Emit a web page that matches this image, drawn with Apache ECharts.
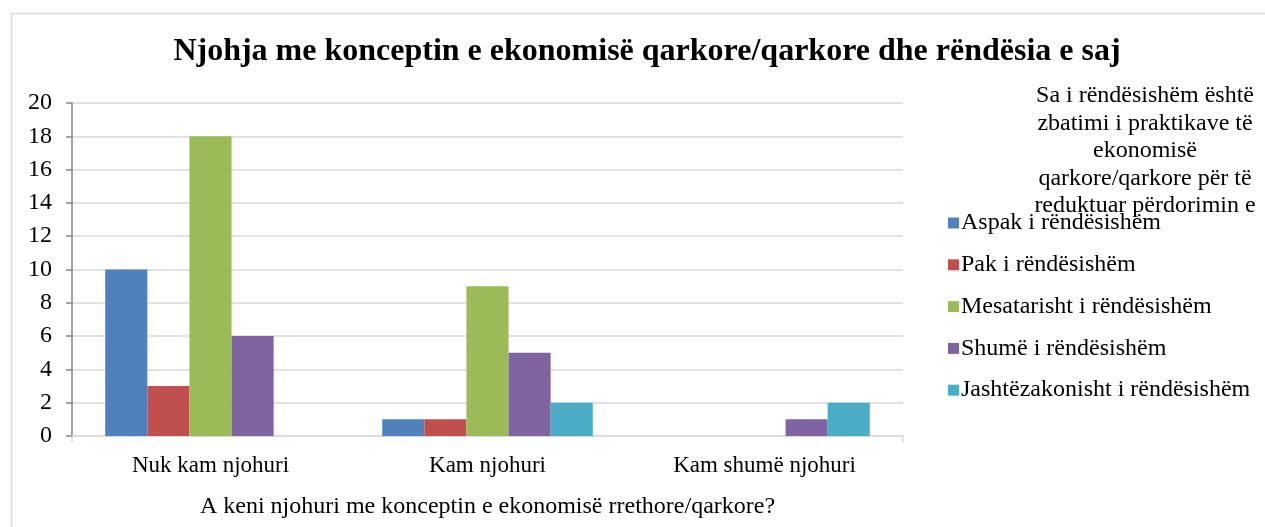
<!DOCTYPE html>
<html>
<head>
<meta charset="utf-8">
<script src="https://cdn.jsdelivr.net/npm/echarts@6/dist/echarts.min.js"></script>
<style>
    html, body { margin: 0; padding: 0; background: #fff; }
    #chart { width: 1265px; height: 527px; }
</style>
</head>
<body>
<div id="chart"></div>
<script>
var categories = ['Nuk kam njohuri', 'Kam njohuri', 'Kam shumë njohuri'];
var seriesNames = ['Aspak i rëndësishëm', 'Pak i rëndësishëm', 'Mesatarisht i rëndësishëm', 'Shumë i rëndësishëm', 'Jashtëzakonisht i rëndësishëm'];
var aspak = [10, 1, 0];
var pak = [3, 1, 0];
var mesatarisht = [18, 9, 0];
var shume = [6, 5, 1];
var jashtezakonisht = [0, 2, 2];
var yTicks = [0, 2, 4, 6, 8, 10, 12, 14, 16, 18, 20];

var serif = '"Liberation Serif", "DejaVu Serif", serif';
var chart = echarts.init(document.getElementById('chart'));

function bar(name, data) {
    return {
        name: name,
        type: 'bar',
        barGap: '0%',
        barCategoryGap: '24%',
        data: data
    };
}

chart.setOption({
    color: ['#4f81bd', '#c0504d', '#9bbb59', '#8064a2', '#4bacc6'],
    animation: false,
    graphic: [{
        type: 'rect',
        shape: { x: 11.5, y: 13.5, width: 1300, height: 600 },
        style: { fill: 'none', stroke: '#d9d9d9', lineWidth: 1.5 },
        silent: true
    }],
    title: [{
        text: 'Njohja me konceptin e ekonomisë qarkore/qarkore dhe rëndësia e saj',
        left: 642,
        top: 31,
        textAlign: 'center',
        textStyle: { fontFamily: serif, fontSize: 32, fontWeight: 'bold', color: '#000' }
    }, {
        // legend title, it runs into the first legend entry like the original
        text: 'Sa i rëndësishëm është\nzbatimi i praktikave të\nekonomisë\nqarkore/qarkore për të\nreduktuar përdorimin e',
        left: 1140,
        top: 77,
        textAlign: 'center',
        textStyle: { fontFamily: serif, fontSize: 24, fontWeight: 'normal', color: '#000', lineHeight: 27.6 }
    }],
    legend: {
        orient: 'vertical',
        left: 943,
        top: 206,
        itemWidth: 11,
        itemHeight: 11,
        itemGap: 17.8,
        icon: 'rect',
        data: seriesNames,
        textStyle: { fontFamily: serif, fontSize: 24, color: '#000', padding: [0, 0, 0, -3], lineHeight: 20 }
    },
    grid: {
        left: 72,
        right: 362,
        top: 103,
        bottom: 91,
        outerBoundsMode: 'none'
    },
    xAxis: {
        type: 'category',
        data: categories,
        name: 'A keni njohuri me konceptin e ekonomisë rrethore/qarkore?',
        nameLocation: 'middle',
        nameGap: 59,
        nameTextStyle: { fontFamily: serif, fontSize: 24, color: '#000' },
        axisLine: { lineStyle: { color: '#d9d9d9', width: 1.5 } },
        axisTick: {
            show: true,
            length: 6,
            interval: function (index) { return index === 0; },
            lineStyle: { color: '#d9d9d9', width: 1.5 }
        },
        axisLabel: { fontFamily: serif, fontSize: 23, color: '#000', margin: 18 }
    },
    yAxis: {
        type: 'value',
        min: yTicks[0],
        max: yTicks[yTicks.length - 1],
        interval: 2,
        axisLine: { show: true, lineStyle: { color: '#868686', width: 1.5 } },
        axisTick: { show: true, length: 6, lineStyle: { color: '#868686', width: 1.5 } },
        axisLabel: { fontFamily: serif, fontSize: 24, color: '#000', margin: 20 },
        splitLine: { lineStyle: { color: '#d9d9d9', width: 1.5 } }
    },
    series: [
        bar(seriesNames[0], aspak),
        bar(seriesNames[1], pak),
        bar(seriesNames[2], mesatarisht),
        bar(seriesNames[3], shume),
        bar(seriesNames[4], jashtezakonisht)
    ]
});
</script>
</body>
</html>
